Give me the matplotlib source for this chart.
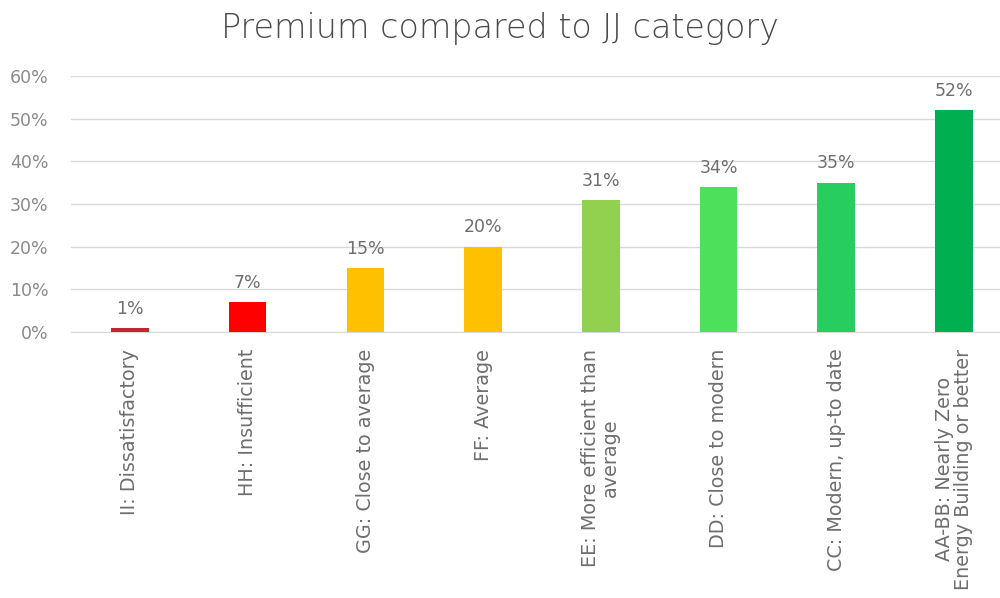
import matplotlib.pyplot as plt
from matplotlib.ticker import PercentFormatter

plt.rcParams['font.family'] = ['DejaVu Sans']

# data
categories = ['II: Dissatisfactory', 'HH: Insufficient', 'GG: Close to average',
              'FF: Average', 'EE: More efficient than\naverage', 'DD: Close to modern',
              'CC: Modern, up-to date', 'AA-BB: Nearly Zero\nEnergy Building or better']
premium = [0.01, 0.07, 0.15, 0.20, 0.31, 0.34, 0.35, 0.52]
colors = ['#C0282D', '#FF0000', '#FFC000', '#FFC000', '#92D050', '#4DE05A', '#28CD60', '#00B050']
yticks = [0, 0.1, 0.2, 0.3, 0.4, 0.5, 0.6]

fig = plt.figure(figsize=(10, 5.98), dpi=100)
ax = fig.add_axes([0.071, 0.4448, 0.929, 0.4281])

x = range(len(categories))
bars = ax.bar(x, premium, width=0.32, color=colors, zorder=3)

for b, v in zip(bars, premium):
    ax.text(b.get_x() + b.get_width() / 2, v + 0.024, f'{v:.0%}',
            ha='center', va='bottom', fontsize=12.5, color='#6E6E6E')

ax.set_ylim(0, 0.6)
ax.set_xlim(-0.5, 7.39)
ax.set_yticks(yticks)
ax.yaxis.set_major_formatter(PercentFormatter(1.0, decimals=0))
ax.set_xticks(list(x))
ax.set_xticklabels(categories, rotation=90, va='top', ha='center',
                   fontsize=13.8, color='#6E6E6E', linespacing=1.05)
ax.tick_params(axis='y', labelsize=12.5, labelcolor='#8A8A8A', length=0, pad=16)
ax.tick_params(axis='x', length=0, pad=12)
ax.grid(axis='y', color='#D9D9D9', linewidth=1, zorder=0)
for s in ['top', 'right', 'left']:
    ax.spines[s].set_visible(False)
ax.spines['bottom'].set_color('#D9D9D9')

fig.suptitle('Premium compared to JJ category', y=0.98, fontsize=24,
             color='#4A4A4A', fontweight='light')

fig.savefig('out.png', dpi=100)
